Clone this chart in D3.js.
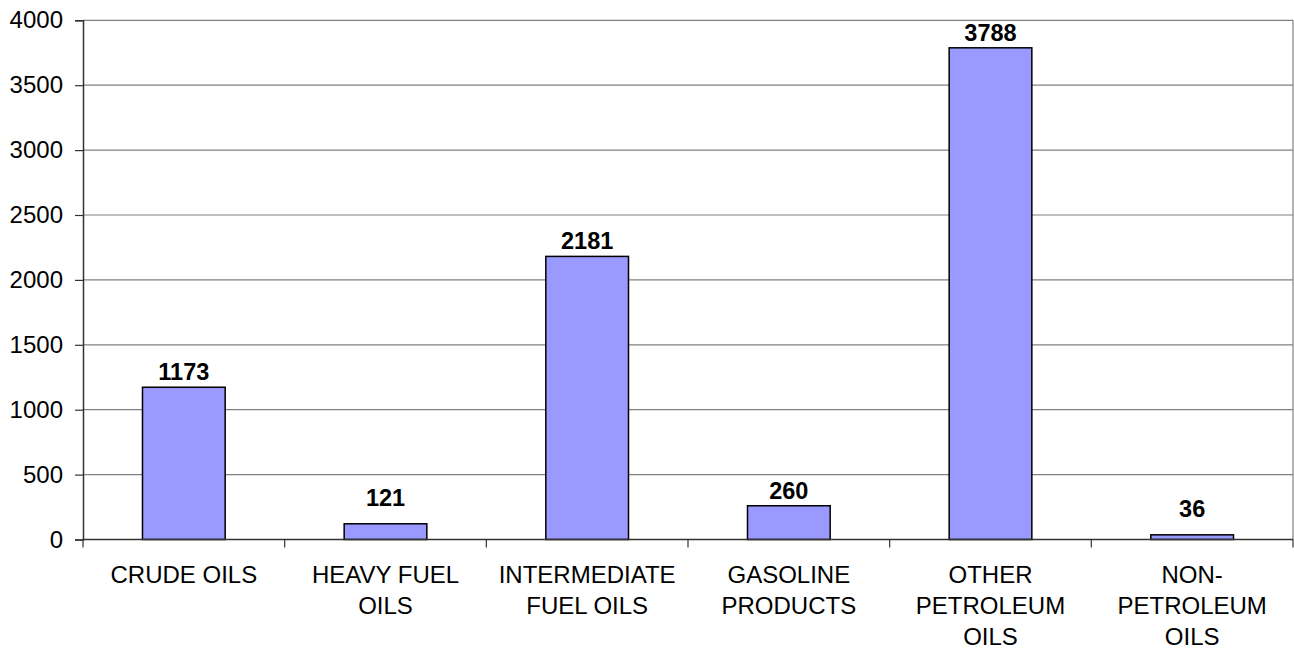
<!DOCTYPE html>
<html>
<head>
<meta charset="utf-8">
<script src="https://cdn.jsdelivr.net/npm/d3@7"></script>
<style>
  html, body { margin: 0; padding: 0; background: #fff; }
  svg { display: block; }
  text { font-family: "Liberation Sans", Arial, sans-serif; fill: #000; }
</style>
</head>
<body>
<svg id="chart" width="1294" height="649"></svg>
<script>
const categories = [
  ["CRUDE OILS"],
  ["HEAVY FUEL", "OILS"],
  ["INTERMEDIATE", "FUEL OILS"],
  ["GASOLINE", "PRODUCTS"],
  ["OTHER", "PETROLEUM", "OILS"],
  ["NON-", "PETROLEUM", "OILS"]
];
const values = [1173, 121, 2181, 260, 3788, 36];
const yTicks = [0, 500, 1000, 1500, 2000, 2500, 3000, 3500, 4000];

(function () {
const svg = d3.select("#chart");
const mLeft = 83, mRight = 1293, mTop = 20.3, mBottom = 539.5;

const keys = categories.map((c, i) => i);
const x = d3.scaleBand().domain(keys).range([mLeft, mRight]).paddingInner(0.59).paddingOuter(0.295);
const xb = d3.scaleBand().domain(keys).range([mLeft, mRight]);
const y = d3.scaleLinear().domain([0, 4000]).range([mBottom, mTop]);

// gridlines
svg.append("g").selectAll("line").data(yTicks.filter(d => d > 0)).join("line")
  .attr("x1", mLeft).attr("x2", mRight)
  .attr("y1", d => y(d)).attr("y2", d => y(d))
  .attr("stroke", "#808080").attr("stroke-width", 1.2);
// right border
svg.append("line").attr("x1", mRight).attr("x2", mRight).attr("y1", mTop).attr("y2", mBottom)
  .attr("stroke", "#808080").attr("stroke-width", 1.2);

// bars
svg.append("g").selectAll("rect").data(values).join("rect")
  .attr("x", (d, i) => x(i))
  .attr("width", x.bandwidth())
  .attr("y", d => y(d))
  .attr("height", d => mBottom - y(d))
  .attr("fill", "#9999FF")
  .attr("stroke", "#000").attr("stroke-width", 1.5);

// y axis
const yAxis = svg.append("g").attr("transform", `translate(${mLeft},0)`)
  .call(d3.axisLeft(y).tickValues(yTicks).tickSize(8).tickPadding(12).tickFormat(d3.format("d")));
yAxis.select(".domain").attr("stroke", "#333").attr("stroke-width", 1.5);
yAxis.selectAll(".tick line").attr("stroke", "#333").attr("stroke-width", 1.2);
yAxis.selectAll(".tick text").attr("font-size", 24).attr("font-family", "Liberation Sans, Arial, sans-serif").attr("fill", "#000");

// x axis
const xAxisG = svg.append("g").attr("transform", `translate(0,${mBottom})`);
xAxisG.append("line").attr("x1", mLeft).attr("x2", mRight).attr("y1", 0).attr("y2", 0)
  .attr("stroke", "#333").attr("stroke-width", 1.5);
const xTickPos = keys.map(k => xb(k)).concat([mRight]);
xAxisG.selectAll("line.tk").data(xTickPos).join("line").attr("class", "tk")
  .attr("x1", d => d).attr("x2", d => d).attr("y1", 0).attr("y2", 8)
  .attr("stroke", "#333").attr("stroke-width", 1.2);

const lbl = svg.append("g").selectAll("text").data(categories).join("text")
  .attr("text-anchor", "middle").attr("font-size", 24);
lbl.each(function(lines, i) {
  const t = d3.select(this);
  lines.forEach((ln, j) => {
    t.append("tspan").attr("x", xb(i) + xb.bandwidth() / 2).attr("y", 582.5 + j * 31).text(ln);
  });
});

// value labels
svg.append("g").selectAll("text").data(values).join("text")
  .attr("x", (d, i) => x(i) + x.bandwidth() / 2)
  .attr("y", d => y(d) - (d < 200 ? 18 : 7))
  .attr("text-anchor", "middle")
  .attr("font-size", 23.5).attr("font-weight", "bold")
  .text(d => d);
})();
</script>
</body>
</html>
